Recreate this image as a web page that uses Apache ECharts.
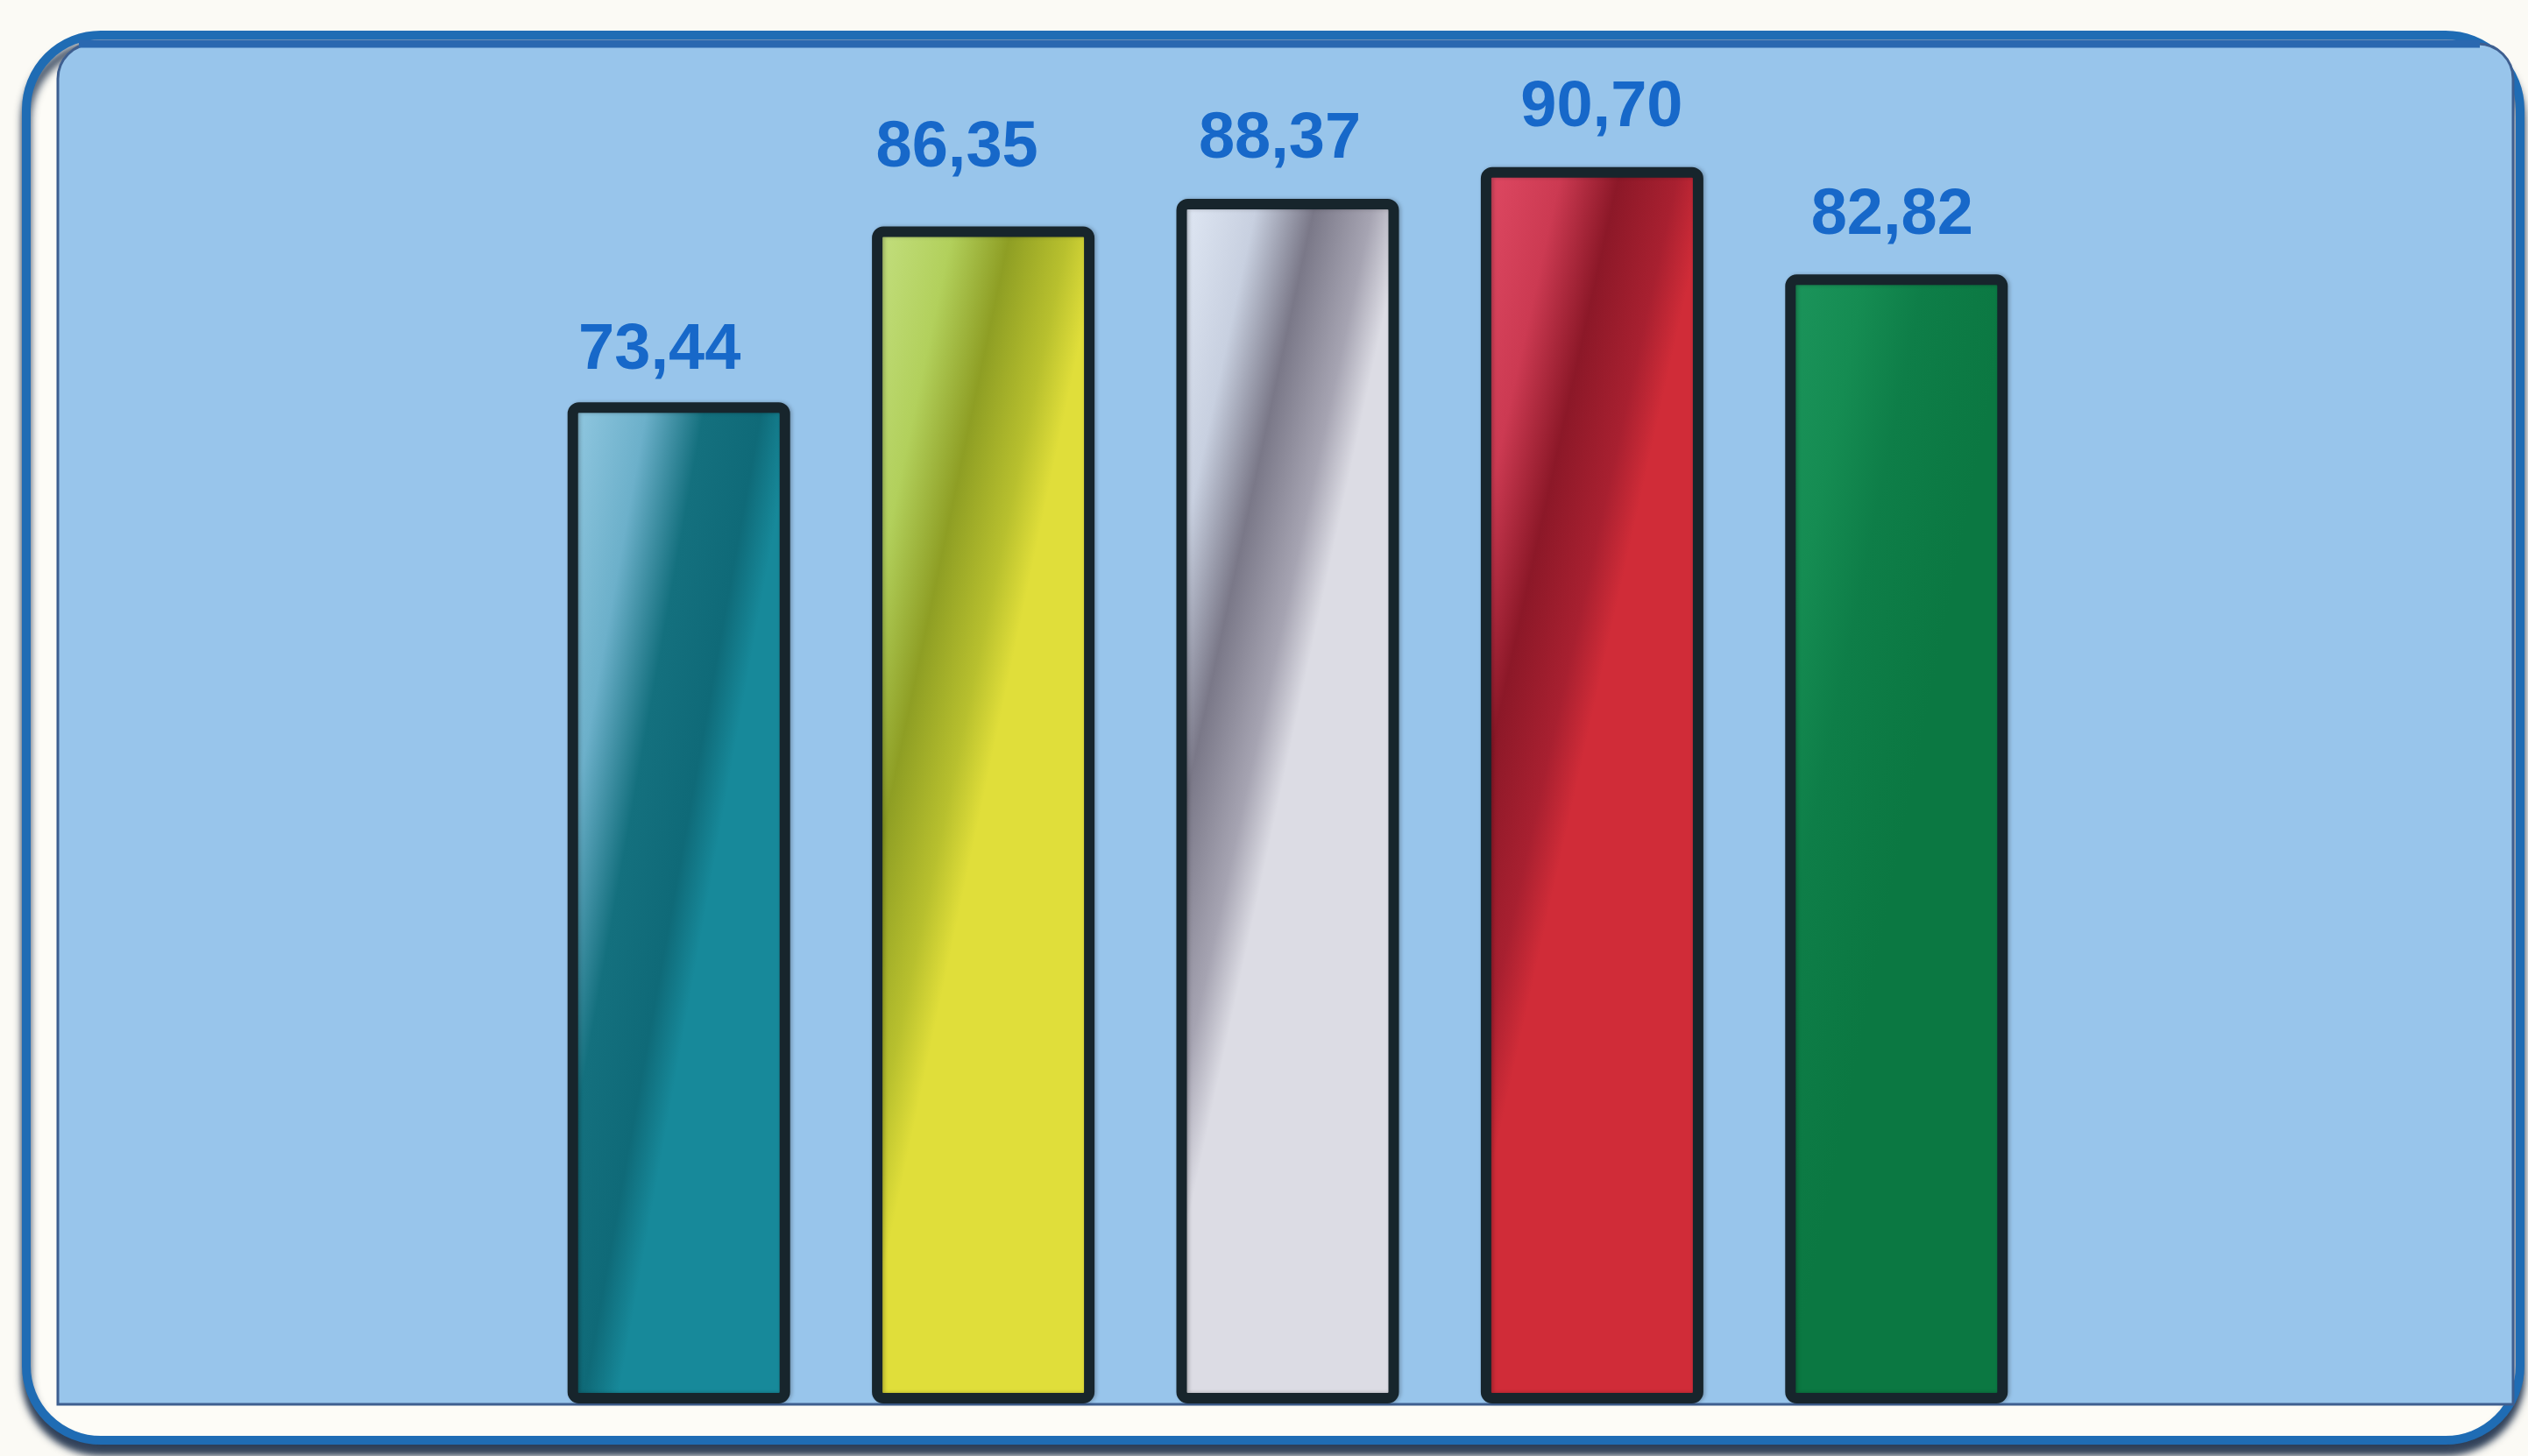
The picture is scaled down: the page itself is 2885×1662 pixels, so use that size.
<!DOCTYPE html>
<html>
<head>
<meta charset="utf-8">
<script src="https://cdn.jsdelivr.net/npm/echarts@6/dist/echarts.min.js"></script>
<style>
  html, body { margin: 0; padding: 0; background: #fbfaf5; }
  #main { width: 2885px; height: 1662px; }
</style>
</head>
<body>
<div id="main"></div>
<script>
// data
const categories = ['A', 'B', 'C', 'D', 'E'];
const values = [73.44, 86.35, 88.37, 90.70, 82.82];

// look of each bar (long diagonal sheen, like the original)
const barStops = [
  ['#95cae3', '#6cb0ca', '#14707e', '#0f6a78', '#17899a'],
  ['#c4e082', '#b2d05c', '#8e9e24', '#b8c02e', '#e0de3a'],
  ['#e2eaf6', '#c8d0e0', '#7a7888', '#a6a4b2', '#dcdce4'],
  ['#e04a64', '#cc3a52', '#8c1828', '#a82030', '#d02c38'],
  ['#1c955c', '#158c52', '#0e7e48', '#0c7a44', '#0b7842']
];
const stopAt = [0, 0.35, 0.6, 0.85, 1];
// small label nudges [dx, dy] as in the photo
const labelNudge = [[-22, 8], [-30, -22], [-9, 0], [11, 0], [-5, 0]];

function fmt(v) {
  return v.toFixed(2).replace('.', ',');
}

var myChart = echarts.init(document.getElementById('main'));

var data = values.map((v, i) => ({
  value: v,
  itemStyle: {
    color: {
      type: 'linear', x: 0, y: 0, x2: 1, y2: 0.04,
      colorStops: barStops[i].map((c, k) => ({ offset: stopAt[k], color: c }))
    }
  },
  label: { offset: labelNudge[i] }
}));

var option = {
  animation: false,
  // the rounded frame behind the plot
  graphic: [
    {
      type: 'rect', z: -10,
      shape: { x: 30, y: 40, width: 2846, height: 1604, r: 85 },
      style: {
        fill: '#fdfcf7', stroke: '#1f6cb4', lineWidth: 10,
        shadowColor: 'rgba(10,30,60,0.85)', shadowOffsetY: 12, shadowBlur: 10
      }
    },
    {
      type: 'rect', z: -9,
      shape: { x: 66, y: 50, width: 2802, height: 1553, r: [40, 40, 0, 0] },
      style: { fill: '#98c5eb', stroke: '#3e5f90', lineWidth: 3 }
    },
    {
      type: 'line', z: -8,
      shape: { x1: 90, y1: 50, x2: 2830, y2: 50 },
      style: { stroke: '#2a68b0', lineWidth: 9 }
    }
  ],
  grid: { left: 601, right: 547, top: 46, bottom: 60 },
  xAxis: {
    type: 'category',
    data: categories,
    show: false
  },
  yAxis: {
    type: 'value',
    min: 0,
    max: 100,
    show: false
  },
  series: [
    {
      type: 'bar',
      data: data,
      barWidth: 254,
      itemStyle: {
        borderColor: '#17252c',
        borderWidth: 12,
        borderRadius: 7,
        shadowColor: 'rgba(0,0,0,0.25)',
        shadowBlur: 4,
        shadowOffsetX: 2
      },
      label: {
        show: true,
        position: 'top',
        distance: 30,
        color: '#1768c9',
        fontFamily: 'Liberation Sans',
        fontWeight: 'bold',
        fontSize: 74,
        formatter: p => fmt(p.value)
      }
    }
  ]
};

myChart.setOption(option);
</script>
</body>
</html>
